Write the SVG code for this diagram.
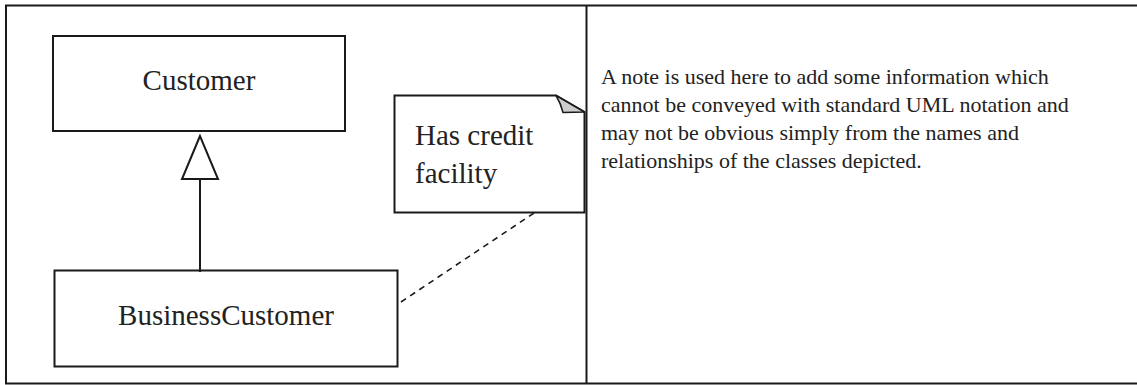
<svg xmlns="http://www.w3.org/2000/svg" width="1137" height="385" viewBox="0 0 1137 385">
<style>
.ln{fill:none;stroke:#1a1a1a;stroke-width:2}
.box{fill:#fff;stroke:#1a1a1a;stroke-width:2}
.t{font-family:"Liberation Serif","Times New Roman",serif;fill:#222}
.big{font-size:29px}
.small{font-size:22px}
</style>
<rect width="1137" height="385" fill="#fff"/>
<g id="frame">
<path class="ln" d="M1137,5.5 H6 V383.5 H1137"/>
<line class="ln" x1="586.5" y1="5" x2="586.5" y2="384"/>
</g>
<g id="customer">
<rect class="box" x="53" y="36" width="292" height="95"/>
<text class="t big" x="199" y="90" text-anchor="middle">Customer</text>
</g>
<g id="businesscustomer">
<rect class="box" x="54.5" y="270.5" width="343" height="96"/>
<text class="t big" x="226" y="325" text-anchor="middle">BusinessCustomer</text>
</g>
<g id="note">
<path class="box" d="M394.5,95.5 H556 L584.5,112 V212.5 H394.5 Z"/>
<path d="M556,95.5 Q561,104 563,112.5 L584.5,112 Z" fill="#ccc" stroke="#1a1a1a" stroke-width="1.5" stroke-linejoin="round"/>
<text class="t big" x="415" y="145">Has credit</text>
<text class="t big" x="415" y="183">facility</text>
</g>
<g id="connectors">
<line class="ln" x1="200" y1="179" x2="200" y2="272"/>
<polygon points="200,136 182,179 218,179" fill="#fff" stroke="#1a1a1a" stroke-width="2"/>
<line x1="534" y1="213" x2="401" y2="302" stroke="#1a1a1a" stroke-width="1.6" stroke-dasharray="6,5"/>
</g>
<g id="description" class="t small">
<text x="601" y="84">A note is used here to add some information which</text>
<text x="601" y="112">cannot be conveyed with standard UML notation and</text>
<text x="601" y="140">may not be obvious simply from the names and</text>
<text x="601" y="168">relationships of the classes depicted.</text>
</g>
</svg>
